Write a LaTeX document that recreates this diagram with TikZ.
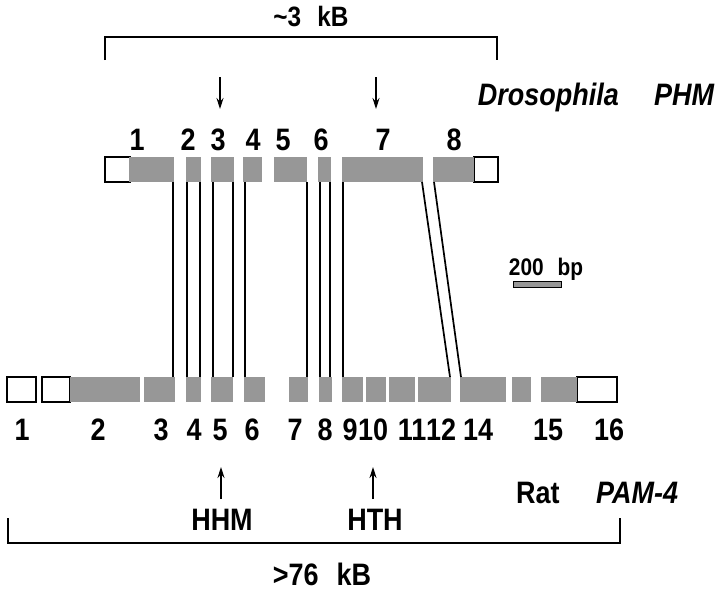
\documentclass[tikz,border=0pt]{standalone}
\usepackage{fontspec}
\setmainfont{Liberation Sans}[FakeStretch=0.87]
\usetikzlibrary{arrows.meta}
\definecolor{exgray}{HTML}{979797}
\tikzset{
  gexon/.style={fill=exgray, draw=none, inner sep=0pt, outer sep=0pt, anchor=north west, minimum height=25pt},
  wexon/.style={fill=white, draw=black, line width=1.6pt, inner sep=0pt, outer sep=0pt, anchor=north west, minimum height=25pt},
  homol/.style={line width=1.7pt, black},
  lbl/.style={font=\fontsize{31}{31}\selectfont\bfseries, inner sep=0pt, anchor=base},
  ttl/.style={font=\fontsize{31}{31}\selectfont\bfseries\itshape, inner sep=0pt},
  brk/.style={line width=2pt, black},
  arr/.style={line width=1.3pt, -{Stealth[length=11pt,width=7pt]}}
}
\begin{document}
\begin{tikzpicture}[x=1pt,y=-1pt]
\useasboundingbox (0,0) rectangle (720,592);
% ---------- Drosophila PHM ----------
\node[wexon, minimum width=25pt] (dL) at (105,157) {};
\node[wexon, minimum width=24pt] (dR) at (474,157) {};
\node[gexon, minimum width=45pt] (d1) at (129,157) {};
\node[gexon, minimum width=15pt] (d2) at (186,157) {};
\node[gexon, minimum width=23pt] (d3) at (211,157) {};
\node[gexon, minimum width=19pt] (d4) at (243,157) {};
\node[gexon, minimum width=33pt] (d5) at (274,157) {};
\node[gexon, minimum width=13pt] (d6) at (318,157) {};
\node[gexon, minimum width=81pt] (d7) at (342,157) {};
\node[gexon, minimum width=41pt] (d8) at (433,157) {};
% exon numbers
\node[lbl] (n1) at (137,150) {1};
\node[lbl] (n2) at (188,150) {2};
\node[lbl] (n3) at (218,150) {3};
\node[lbl] (n4) at (253,150) {4};
\node[lbl] (n5) at (283,150) {5};
\node[lbl] (n6) at (321,150) {6};
\node[lbl] (n7) at (383,150) {7};
\node[lbl] (n8) at (454,150) {8};
% ---------- Rat PAM-4 ----------
\node[wexon, minimum width=29pt] (r1) at (7,377) {};
\node[wexon, minimum width=28pt] (r2w) at (42,377) {};
\node[wexon, minimum width=40pt] (r16) at (577,377) {};
\node[gexon, minimum width=70pt] (r2) at (70,377) {};
\node[gexon, minimum width=31pt] (r3) at (144,377) {};
\node[gexon, minimum width=15pt] (r4) at (186,377) {};
\node[gexon, minimum width=22pt] (r5) at (211,377) {};
\node[gexon, minimum width=21pt] (r6) at (244,377) {};
\node[gexon, minimum width=19pt] (r7) at (289,377) {};
\node[gexon, minimum width=13pt] (r8) at (319,377) {};
\node[gexon, minimum width=21pt] (r9) at (342,377) {};
\node[gexon, minimum width=20pt] (r10) at (366,377) {};
\node[gexon, minimum width=26pt] (r11) at (389,377) {};
\node[gexon, minimum width=33pt] (r12) at (418,377) {};
\node[gexon, minimum width=46pt] (r14) at (460,377) {};
\node[gexon, minimum width=19pt] (r13) at (512,377) {};
\node[gexon, minimum width=36pt] (r15) at (541,377) {};
% rat exon numbers
\node[lbl] (m1) at (22,440) {1};
\node[lbl] (m2) at (98,440) {2};
\node[lbl] (m3) at (161,440) {3};
\node[lbl] (m4) at (194,440) {4};
\node[lbl] (m5) at (220,440) {5};
\node[lbl] (m6) at (252,440) {6};
\node[lbl] (m7) at (295,440) {7};
\node[lbl] (m8) at (325,440) {8};
\node[lbl] (m9) at (350,440) {9};
\node[lbl] (m10) at (373,440) {10};
\node[lbl] (m11) at (412,440) {11};
\node[lbl] (m12) at (441,440) {12};
\node[lbl] (m14) at (478,440) {14};
\node[lbl] (m15) at (548,440) {15};
\node[lbl] (m16) at (609,440) {16};
% ---------- homology connectors ----------
\draw[homol] ([xshift=-1pt]d1.south east) -- ([xshift=-2pt]r3.north east);
\draw[homol] ([xshift=1pt]d2.south west) -- ([xshift=1pt]r4.north west);
\draw[homol] ([xshift=-1pt]d2.south east) -- ([xshift=-1pt]r4.north east);
\draw[homol] ([xshift=2pt]d3.south west) -- ([xshift=2pt]r5.north west);
\draw[homol] ([xshift=-1pt]d3.south east) -- ([xshift=0pt]r5.north east);
\draw[homol] ([xshift=2pt]d4.south west) -- ([xshift=1pt]r6.north west);
\draw[homol] ([xshift=0pt]d5.south east) -- ([xshift=-1pt]r7.north east);
\draw[homol] ([xshift=2pt]d6.south west) -- ([xshift=1pt]r8.north west);
\draw[homol] ([xshift=-1pt]d6.south east) -- ([xshift=-2pt]r8.north east);
\draw[homol] ([xshift=1pt]d7.south west) -- ([xshift=1pt]r9.north west);
\draw[homol] ([xshift=-1pt]d7.south east) -- ([xshift=-1pt]r12.north east);
\draw[homol] ([xshift=1pt]d8.south west) -- ([xshift=1pt]r14.north west);
% ---------- top bracket ----------
\coordinate (tbl) at (105,60);
\coordinate (tbr) at (497,60);
\draw[brk] (tbl) -- ++(0,-23) -| (tbr);
\node[font=\fontsize{28}{28}\selectfont\bfseries, inner sep=0pt, anchor=base] (tsz) at (311,26) {\textasciitilde 3\,\, kB};
% down arrows
\coordinate (a1s) at (220,77);
\coordinate (a1e) at (220,109);
\coordinate (a2s) at (376,77);
\coordinate (a2e) at (376,109);
\draw[arr] (a1s) -- (a1e);
\draw[arr] (a2s) -- (a2e);
\node[ttl, anchor=base east] (dros) at (619,105) {Drosophila};
\node[ttl, anchor=base west] (phm) at (654,105) {PHM};
% ---------- scale bar ----------
\node[draw=black, line width=0.8pt, fill=exgray, minimum width=48pt, minimum height=6pt, inner sep=0pt, anchor=north west] (scale) at (513,281) {};
\node[font=\fontsize{24}{24}\selectfont\bfseries, inner sep=0pt, anchor=base] (sclbl) at (546,275) {200\,\, bp};
% ---------- bottom arrows ----------
\coordinate (b1s) at (221,499);
\coordinate (b1e) at (221,467);
\coordinate (b2s) at (373,499);
\coordinate (b2e) at (373,467);
\draw[arr] (b1s) -- (b1e);
\draw[arr] (b2s) -- (b2e);
\node[lbl] (hhm) at (222,530) {HHM};
\node[lbl] (hth) at (375,530) {HTH};
\node[lbl, anchor=base west] (rat) at (516,503) {Rat};
\node[ttl, anchor=base west] (pam) at (596,503) {PAM-4};
% ---------- bottom bracket ----------
\coordinate (bbl) at (8,518);
\coordinate (bbr) at (620,518);
\draw[brk] (bbl) -- ++(0,25) -| (bbr);
\node[lbl, text depth=0pt] (bsz) at (322,585) {>76\,\, kB};
\end{tikzpicture}
\end{document}
